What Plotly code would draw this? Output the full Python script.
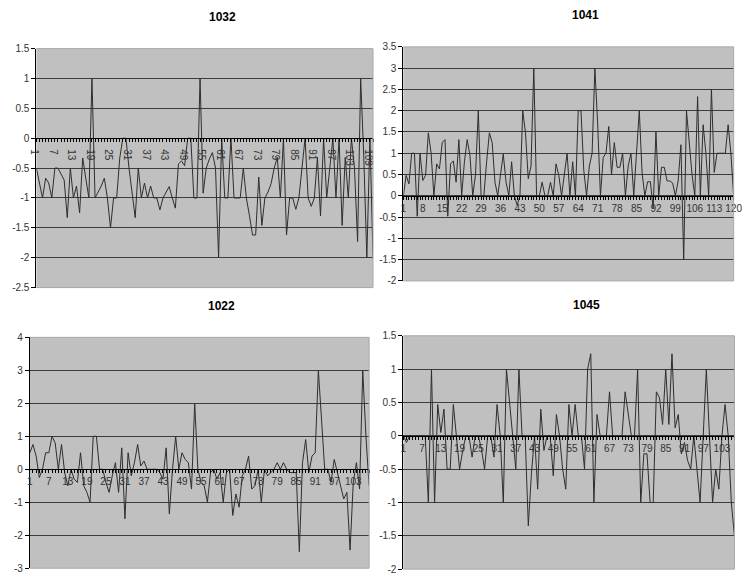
import numpy as np
import plotly.graph_objects as go

W, H = 750, 584

titles = ["1032", "1041", "1022", "1045"]

s1032 = [-0.5, -0.75, -1.0, -0.67, -0.75, -1.0, -0.5, -0.5, -0.6, -0.7,
         -1.33, -0.5, -1.0, -0.8, -1.25, -0.33, -0.67, -1.0, 1.0, -1.0,
         -0.9, -0.8, -0.67, -1.0, -1.5, -1.0, -1.0, -0.33, 0, 0,
         -0.5, -0.9, -1.33, -0.5, -1.0, -0.75, -1.0, -0.8, -1.0, -1.0,
         -1.2, -1.0, -0.9, -0.81, -1.0, -1.17, -0.43, -0.38, -0.46, 0,
         0, -1.0, -1.0, 1.0, -0.92, -0.5, -0.35, -0.24, -0.5, -2.0,
         0, -1.0, -1.0, 0, -1.0, -1.0, -1.0, -0.5, -1.0, -1.3,
         -1.62, -1.62, -0.65, -1.46, -1.0, -0.9, -0.76, -0.5, -0.32, -1.0,
         0, -1.62, -1.0, -1.0, -1.19, -1.0, -0.5, 0, -1.0, -1.14,
         -1.0, -0.32, -1.3, 0, -1.0, -0.5, 0, -1.0, 0, -1.46,
         -0.32, -1.0, 0, -0.5, -1.73, 1.0, -0.3, -2.0, 0, -2.0]

s1041 = [0, 0.48, 0.28, 1.0, 1.0, -0.48, 1.0, 0.36, 0.48, 1.48,
         1.0, 0, 0.75, 0.63, 1.25, 1.32, -0.48, 0.75, 0.82, 0.32,
         1.32, 0, 0.8, 1.32, 0.94, 0, 0.5, 2.0, 0, 0,
         0.8, 1.48, 1.25, 0.32, 0, 0.5, 0.98, 0.32, 0, 0.8,
         0, -0.22, 0, 2.0, 1.48, 0.4, 0.7, 3.0, 0, 0,
         0.32, 0, 0, 0.32, 0, 0.75, 0.48, 0, 0.5, 1.0,
         0, 0.8, 0, 2.0, 2.0, 0.6, 0, 0.7, 1.0, 3.0,
         1.7, 0, 0.9, 1.0, 1.63, 0.5, 1.25, 0.67, 0.67, 1.0,
         0, 0.7, 1.0, 0, 1.0, 2.0, 0.55, 0, 0.33, 0.33,
         -0.3, 1.5, 0, 0.67, 0.67, 0.35, 0.35, 0.3, 0, 0.35,
         1.2, -1.5, 2.0, 1.17, 0.5, 0, 2.33, 0, 1.67, 1.0,
         0, 2.5, 0.55, 1.0, 1.0, 1.0, 1.0, 1.67, 1.0, 0]

s1022 = [0.5, 0.75, 0.4, -0.25, 0, 0.5, 0.5, 1.0, 0.8, 0,
         0.75, -0.1, -0.5, 0, -0.3, -0.4, 0.5, -0.5, -0.7, -1.0,
         1.0, 1.0, 0, 0, -0.4, -0.7, -0.2, 0.2, -0.7, 0.65,
         -1.5, 0.5, -0.2, 0.2, 0.75, 0.1, 0.25, 0, 0, 0,
         0, -0.1, -0.3, 0.65, -1.35, 0, 1.0, 0, 0.5, 0.3,
         0.2, -0.6, 2.0, 0, -0.4, -0.5, -1.0, -0.1, 0, -0.3,
         -0.1, -1.0, -0.1, 0, -1.4, -0.75, -1.15, -0.2, 0, 0.4,
         -0.6, -0.5, 0, -1.0, 0, -0.2, -0.1, 0, 0.2, 0,
         0.2, 0, -0.1, -0.1, -0.1, -2.5, 0.2, 0.9, -0.1, 0.4,
         0.5, 3.0, 1.4, 0, 0, -0.4, 0.3, -0.1, -0.5, -0.9,
         -0.7, -2.45, -0.4, 0.2, -0.6, 3.0, 1.0, -0.5]

s1045 = [0, -0.1, 0, 0, 0, 0, 0, 0, -1.0, 1.0,
         -1.0, 0.47, 0.05, 0.4, -0.5, -0.5, 0.47, 0, -0.5, -0.22,
         0, 0, -0.32, 0, 0, -0.2, -0.5, 0, 0, -0.32,
         0.47, 0, -1.0, 1.0, 0.47, 0, -0.5, 1.0, 0, 0,
         -1.35, -0.57, 0, -0.8, 0.4, -0.22, 0, 0, -0.6, 0.32,
         0, -0.5, -0.8, 0.47, 0, 0.47, 0, 0, -0.5, 1.0,
         1.23, -1.0, 0.32, 0, 0, 0, 0.66, 0, 0, 0,
         0, 0.66, 0.32, 0, 0, 1.0, -1.0, -0.27, -0.27, -1.0,
         -1.0, 0.66, 0.57, 0.17, 1.0, 0.17, 1.23, 0.12, 0.32, -0.27,
         -0.1, -0.37, -0.5, 0, -0.5, -1.0, 0, 1.0, 0, -1.0,
         -0.5, -0.8, 0, 0.47, 0, -1.0, -1.5]

series = [s1032, s1041, s1022, s1045]
y_min = [-2.5, -2, -3, -2]
y_max = [1.5, 3.5, 4, 1.5]
y_step = [0.5, 0.5, 1, 0.5]
x_label_step = [6, 7, 6, 6]

# plot-area boxes in page pixels: left, right, top, bottom
boxes = [(30, 374, 43.5, 287.5), (405, 742.5, 41.7, 280.7),
         (23.3, 370, 338.3, 574), (405, 743.3, 336.7, 575)]
title_pos = [(220, 11), (591, 9), (219, 306), (592, 305)]


def px_x(p):
    return p / W


def px_y(p):
    return 1 - p / H


FONT = "Liberation Sans, Arial, sans-serif"
fig = go.Figure()
layout = dict(
    width=W, height=H, margin=dict(l=0, r=0, t=0, b=0),
    paper_bgcolor="white", plot_bgcolor="#c0c0c0",
    showlegend=False, font=dict(family=FONT, size=10, color="#333"),
)
shapes = []
annotations = []


def fmt(v):
    return f"{v:g}"


for i, vals in enumerate(series):
    k = "" if i == 0 else str(i + 1)
    n = len(vals)
    xs = list(range(1, n + 1))
    fig.add_trace(go.Scatter(x=xs, y=vals, mode="lines",
                             line=dict(color="#2e2e2e", width=1),
                             xaxis="x" + k, yaxis="y" + k, hoverinfo="skip"))
    l, r, t, b = boxes[i]
    yd0, yd1 = px_y(b), px_y(t)
    ymn, ymx = y_min[i], y_max[i]
    pos = yd0 + (0 - ymn) / (ymx - ymn) * (yd1 - yd0)
    yt = list(np.round(np.arange(ymn, ymx + 1e-9, y_step[i]), 3))
    xt = list(range(1, n + 1, x_label_step[i]))
    layout["xaxis" + k] = dict(
        domain=[px_x(l), px_x(r)], range=[1, n], anchor="free", position=pos,
        tickmode="array", tickvals=xt, ticktext=[str(v) for v in xt],
        ticks="outside", ticklen=3, tickcolor="#000", tickwidth=1,
        ticklabeloverflow="allow",
        minor=dict(tickmode="linear", tick0=1, dtick=1, ticks="outside",
                   ticklen=3, tickcolor="#000", tickwidth=1, showgrid=False),
        showline=True, linecolor="#000", linewidth=1,
        showgrid=False, zeroline=False, fixedrange=True,
        tickfont=dict(size=10, color="#333"),
    )
    layout["yaxis" + k] = dict(
        domain=[yd0, yd1], range=[ymn, ymx], anchor="x" + k,
        tickmode="array", tickvals=yt, ticktext=[fmt(v) for v in yt],
        ticks="outside", ticklen=4, tickcolor="#000",
        showline=True, linecolor="#000", linewidth=1,
        showgrid=True, gridcolor="#3c3c3c", gridwidth=1,
        zeroline=False, fixedrange=True,
        tickfont=dict(size=10, color="#333"),
    )
    xr, yr = "x" + k + " domain", "y" + k + " domain"
    for (x0, y0, x1, y1) in [(0, 1, 1, 1), (1, 0, 1, 1), (0, 0, 1, 0)]:
        shapes.append(dict(type="line", xref=xr, yref=yr, x0=x0, y0=y0,
                           x1=x1, y1=y1, line=dict(color="#a8a8a8", width=1),
                           layer="above"))
    tx, ty = title_pos[i]
    annotations.append(dict(text="<b>" + titles[i] + "</b>", x=px_x(tx),
                            y=px_y(ty), xref="paper", yref="paper",
                            xanchor="center", yanchor="middle",
                            showarrow=False,
                            font=dict(size=12, color="#000", family=FONT)))

layout["shapes"] = shapes
layout["annotations"] = annotations
fig.update_layout(**layout)
fig.write_html(
    "out.html",
    config={"displayModeBar": False, "staticPlot": True},
    post_script="document.body.style.margin='0';"
                "document.body.style.overflow='hidden';",
)
